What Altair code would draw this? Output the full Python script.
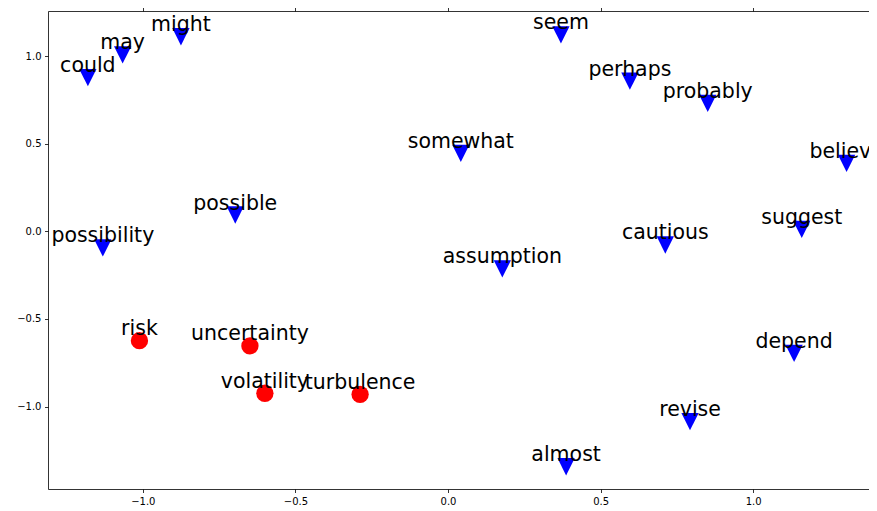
import altair as alt
import pandas as pd

# Hedge words (blue triangles)
hedge_words = ["could", "may", "might", "possible", "possibility", "seem", "perhaps",
               "probably", "believe", "suggest", "cautious", "somewhat", "assumption",
               "depend", "revise", "almost"]
hedge_x = [-1.180, -1.066, -0.875, -0.697, -1.131, 0.370, 0.596,
           0.851, 1.306, 1.159, 0.712, 0.042, 0.178,
           1.134, 0.793, 0.387]
hedge_y = [0.877, 1.006, 1.110, 0.093, -0.095, 1.120, 0.857,
           0.730, 0.388, 0.011, -0.078, 0.445, -0.214,
           -0.696, -1.086, -1.343]

# Risk words (red circles)
risk_words = ["risk", "uncertainty", "volatility", "turbulence"]
risk_x = [-1.011, -0.649, -0.600, -0.288]
risk_y = [-0.624, -0.654, -0.924, -0.930]

x_ticks = [-1.0, -0.5, 0.0, 0.5, 1.0]
y_ticks = [-1.0, -0.5, 0.0, 0.5, 1.0]
x_domain = [-1.3106, 1.3794]
y_domain = [-1.470, 1.2567]

hedge = pd.DataFrame({"word": hedge_words, "x": hedge_x, "y": hedge_y})
risk = pd.DataFrame({"word": risk_words, "x": risk_x, "y": risk_y})
allw = pd.concat([hedge, risk], ignore_index=True)

xscale = alt.Scale(domain=x_domain, nice=False, zero=False)
yscale = alt.Scale(domain=y_domain, nice=False, zero=False)

axis_common = dict(grid=False, domainColor="black", domainWidth=0.8,
                   tickColor="black", tickWidth=0.8, tickSize=3.5,
                   labelFont="DejaVu Sans", labelFontSize=10, labelColor="black",
                   labelPadding=3.5, title=None, format=".1f")

x_bottom = alt.Axis(orient="bottom", values=x_ticks, **axis_common)
x_top = alt.Axis(orient="top", values=x_ticks, labels=False, **axis_common)
y_left = alt.Axis(orient="left", values=y_ticks, **axis_common)

tri = alt.Chart(hedge).mark_point(
    shape="M-1,-1L1,-1L0,1Z", filled=True, size=300, color="#0000ff",
    opacity=1, strokeWidth=0
).encode(
    x=alt.X("x:Q", scale=xscale, axis=x_bottom),
    y=alt.Y("y:Q", scale=yscale, axis=y_left),
)

circ = alt.Chart(risk).mark_circle(size=300, color="#ff0000", opacity=1).encode(
    x=alt.X("x:Q", scale=xscale, axis=x_top),
    y=alt.Y("y:Q", scale=yscale, axis=None),
)

labels = alt.Chart(allw).mark_text(
    align="center", baseline="alphabetic", dy=-5.5, fontSize=20.5,
    font="DejaVu Sans", color="black"
).encode(
    x=alt.X("x:Q", scale=xscale, axis=None),
    y=alt.Y("y:Q", scale=yscale, axis=None),
    text="word:N",
)

chart = alt.layer(tri, circ, labels).resolve_axis(
    x="independent", y="independent"
).properties(
    width=821, height=478,
    autosize=alt.AutoSizeParams(type="none"),
    padding={"left": 40, "top": 3, "right": 0, "bottom": 20},
).configure_view(stroke=None)

chart.save("out.html", embed_options={"renderer": "svg", "actions": False})
